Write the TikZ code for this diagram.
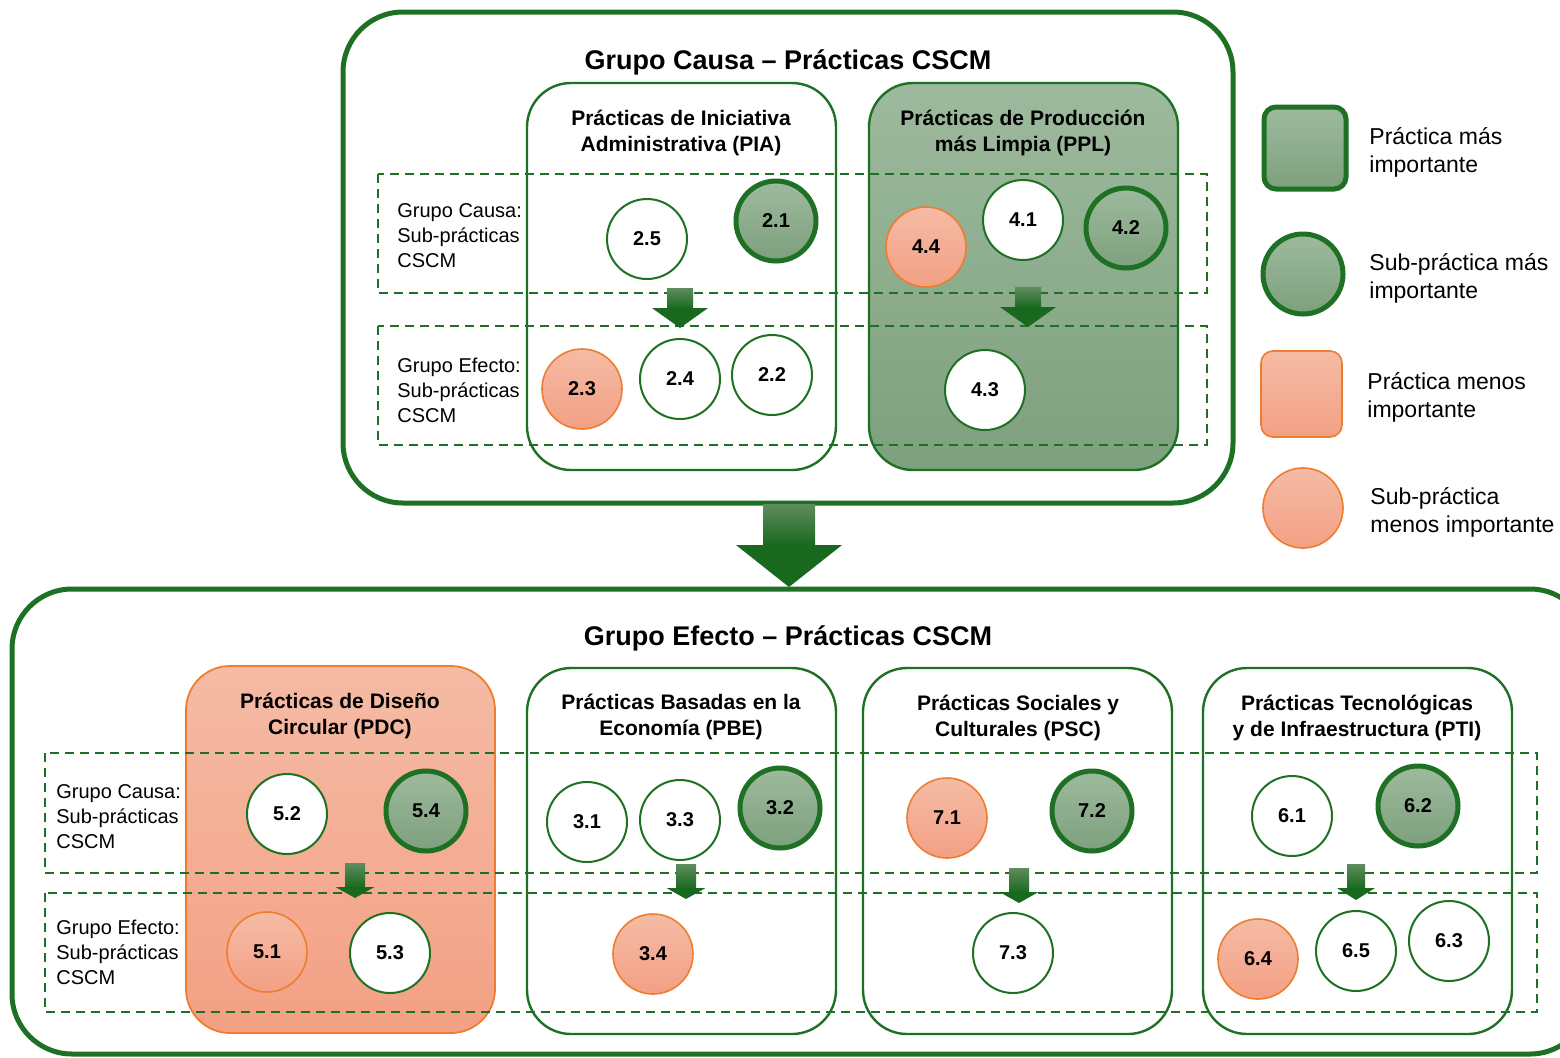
\documentclass[tikz,border=0pt]{standalone}
\usepackage{fontspec}
\setmainfont{Liberation Sans}
\definecolor{dkg}{RGB}{30,112,36}
\definecolor{gtop}{RGB}{158,186,158}
\definecolor{gbot}{RGB}{125,160,125}
\definecolor{stop}{RGB}{245,187,165}
\definecolor{sbot}{RGB}{243,160,132}
\definecolor{orng}{RGB}{237,125,49}
\definecolor{arl}{RGB}{95,140,95}
\definecolor{ard}{RGB}{24,104,30}
\newcommand\blkarrow[6]{%
  \shade[top color=arl, bottom color=ard] (#1-#2,#4) rectangle (#1+#2,#5+1);
  \fill[ard] (#1-#3,#5) -- (#1+#3,#5) -- (#1,#6) -- cycle;
}
\begin{document}
\begin{tikzpicture}[x=0.5pt,y=-0.5pt,
  bigbox/.style={draw=dkg, line width=2.5pt, rounded corners=30pt},
  subwhite/.style={draw=dkg, line width=1.2pt, rounded corners=22pt, fill=white},
  subgreen/.style={draw=dkg, line width=1.2pt, rounded corners=22pt, top color=gtop, bottom color=gbot},
  subsalmon/.style={draw=orng, line width=0.9pt, rounded corners=22pt, top color=stop, bottom color=sbot},
  dashbox/.style={draw=dkg, line width=1.4pt, dash pattern=on 4.5pt off 3pt},
  circ/.style={circle, minimum size=40pt, inner sep=0pt, font=\fontsize{10}{12}\selectfont\bfseries},
  cw/.style={circ, draw=dkg, line width=1pt, fill=white},
  cg/.style={circ, draw=dkg, line width=2.5pt, top color=gtop, bottom color=gbot},
  cs/.style={circ, draw=orng, line width=0.8pt, top color=stop, bottom color=sbot},
  bigtitle/.style={font=\fontsize{13.5}{16}\selectfont\bfseries},
  subtitle/.style={font=\fontsize{10.5}{13}\selectfont\bfseries, align=center},
  lbl/.style={font=\fontsize{10}{12.5}\selectfont, align=left, anchor=west, inner sep=0pt},
  leg/.style={font=\fontsize{11.5}{14}\selectfont, align=left, anchor=west, inner sep=0pt}
]
\useasboundingbox (0,0) rectangle (1560,1057);

% ---------- top group ----------
\draw[bigbox] (343,12) rectangle (1233,503);
\node[bigtitle] (ttop) at (788,62) {Grupo Causa – Prácticas CSCM};
\draw[subwhite] (527,83) rectangle (836,470);
\draw[subgreen] (869,83) rectangle (1178,470);
\node[subtitle] (tpia) at (681,133) {Prácticas de Iniciativa\\Administrativa (PIA)};
\node[subtitle] (tppl) at (1023,133) {Prácticas de Producción\\más Limpia (PPL)};
\draw[dashbox] (378,174) rectangle (1207,293);
\draw[dashbox] (378,326) rectangle (1207,445);
\node[lbl] (lc1) at (397,236) {Grupo Causa:\\Sub-prácticas\\CSCM};
\node[lbl] (le1) at (397,390) {Grupo Efecto:\\Sub-prácticas\\CSCM};
\blkarrow{680}{13}{28}{288}{308}{328}
\blkarrow{1028}{13}{28}{287}{307}{327}
\node[cw] (c25) at (647,239) {2.5};
\node[cg] (c21) at (776,221) {2.1};
\node[cs] (c44) at (926,247) {4.4};
\node[cw] (c41) at (1023,220) {4.1};
\node[cg] (c42) at (1126,228) {4.2};
\node[cs] (c23) at (582,389) {2.3};
\node[cw] (c24) at (680,379) {2.4};
\node[cw] (c22) at (772,375) {2.2};
\node[cw] (c43) at (985,390) {4.3};

% big arrow
\blkarrow{789}{26}{53}{504}{545}{587}

% ---------- bottom group ----------
\draw[bigbox] (12,589) rectangle (1590,1054);
\node[bigtitle] (tbot) at (788,638) {Grupo Efecto – Prácticas CSCM};
\draw[subsalmon] (186,666) rectangle (495,1033);
\draw[subwhite] (527,668) rectangle (836,1034);
\draw[subwhite] (863,668) rectangle (1172,1034);
\draw[subwhite] (1203,668) rectangle (1512,1034);
\node[subtitle] (tpdc) at (340,716) {Prácticas de Diseño\\Circular (PDC)};
\node[subtitle] (tpbe) at (681,717) {Prácticas Basadas en la\\Economía (PBE)};
\node[subtitle] (tpsc) at (1018,718) {Prácticas Sociales y\\Culturales (PSC)};
\node[subtitle] (tpti) at (1357,718) {Prácticas Tecnológicas\\y de Infraestructura (PTI)};
\draw[dashbox] (45,753) rectangle (1537,873);
\draw[dashbox] (45,893) rectangle (1537,1012);
\node[lbl] (lc2) at (56,817) {Grupo Causa:\\Sub-prácticas\\CSCM};
\node[lbl] (le2) at (56,952) {Grupo Efecto:\\Sub-prácticas\\CSCM};
\blkarrow{355}{10}{19.5}{863}{887}{898}
\blkarrow{686}{10}{19.5}{864}{888}{899}
\blkarrow{1019}{10}{19.5}{868}{892}{903}
\blkarrow{1356}{9}{19}{864}{888}{900}
\node[cw] (c52) at (287,814) {5.2};
\node[cg] (c54) at (426,811) {5.4};
\node[cs] (c51) at (267,952) {5.1};
\node[cw] (c53) at (390,953) {5.3};
\node[cw] (c31) at (587,822) {3.1};
\node[cw] (c33) at (680,820) {3.3};
\node[cg] (c32) at (780,808) {3.2};
\node[cs] (c34) at (653,954) {3.4};
\node[cs] (c71) at (947,818) {7.1};
\node[cg] (c72) at (1092,811) {7.2};
\node[cw] (c73) at (1013,953) {7.3};
\node[cw] (c61) at (1292,816) {6.1};
\node[cg] (c62) at (1418,806) {6.2};
\node[cs] (c64) at (1258,959) {6.4};
\node[cw] (c65) at (1356,951) {6.5};
\node[cw] (c63) at (1449,941) {6.3};

% ---------- legend ----------
\node[draw=dkg, line width=2.5pt, rounded corners=6pt, top color=gtop, bottom color=gbot,
      minimum width=41pt, minimum height=41pt, inner sep=0pt] (lg1) at (1305,148) {};
\node[cg] (lg2) at (1303,274) {};
\node[draw=orng, line width=0.8pt, rounded corners=6pt, top color=stop, bottom color=sbot,
      minimum width=40.5pt, minimum height=43pt, inner sep=0pt] (lg3) at (1301.5,394) {};
\node[cs] (lg4) at (1303,508) {};
\node[leg] (lt1) at (1369,152) {Práctica más\\importante};
\node[leg] (lt2) at (1369,278) {Sub-práctica más\\importante};
\node[leg] (lt3) at (1367,397) {Práctica menos\\importante};
\node[leg] (lt4) at (1370,512) {Sub-práctica\\menos importante};
\end{tikzpicture}
\end{document}
